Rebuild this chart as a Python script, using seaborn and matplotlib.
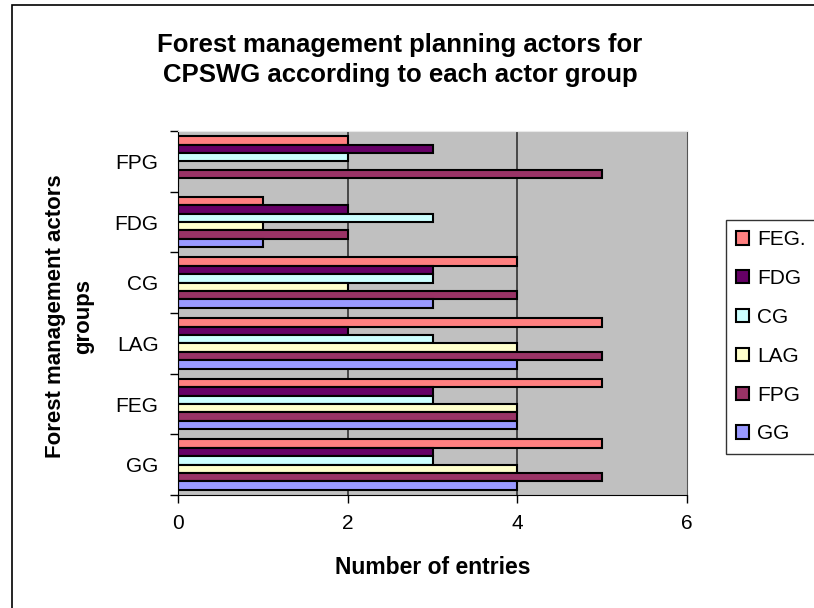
import matplotlib
matplotlib.use("Agg")
from matplotlib import pyplot as plt
from matplotlib.patches import Rectangle
import seaborn as sns
import pandas as pd

# actor groups on the y axis, top to bottom
groups = ['FPG', 'FDG', 'CG', 'LAG', 'FEG', 'GG']
# series, legend order
series = ['FEG.', 'FDG', 'CG', 'LAG', 'FPG', 'GG']

feg = [2, 1, 4, 5, 5, 5]
fdg = [3, 2, 3, 2, 3, 3]
cg = [2, 3, 3, 3, 3, 3]
lag = [0, 1, 2, 4, 4, 4]
fpg = [5, 2, 4, 5, 4, 5]
gg = [0, 1, 3, 4, 4, 4]

colors = ['#FF8080', '#660066', '#CCFFFF', '#FFFFCC', '#993366', '#9999FF']

rows = []
for name, vals in zip(series, [feg, fdg, cg, lag, fpg, gg]):
    for g, v in zip(groups, vals):
        rows.append({'group': g, 'series': name, 'value': v})
df = pd.DataFrame(rows)

sns.set_style("white")
plt.rcParams['font.family'] = ['Liberation Sans', 'DejaVu Sans']
plt.rcParams['text.color'] = 'black'
plt.rcParams['axes.labelcolor'] = 'black'
plt.rcParams['xtick.color'] = 'black'
plt.rcParams['ytick.color'] = 'black'

fig = plt.figure(figsize=(8.14, 6.08), dpi=100)
ax = fig.add_axes([178 / 814, 1 - 495 / 608, (687 - 178) / 814, (495 - 131) / 608])

sns.barplot(data=df, x='value', y='group', hue='series', order=groups,
            hue_order=series, palette=colors, orient='h', width=0.83,
            edgecolor='black', linewidth=1.5, saturation=1, ax=ax, legend=True)

ax.set_facecolor('#C0C0C0')
ax.set_xlim(0, 6)
ax.set_ylim(5.5, -0.5)
ax.set_xticks([0, 2, 4, 6])
ax.set_xticklabels(['0', '2', '4', '6'], fontsize=15)
for x in [2, 4]:
    ax.axvline(x, color='#333333', lw=1.2, zorder=0.5)

ax.set_yticks(range(len(groups)))
ax.set_yticklabels(groups, fontsize=15)
ax.tick_params(axis='y', which='major', left=False, length=0, pad=14)
ax.set_yticks([i - 0.5 for i in range(len(groups) + 1)], minor=True)
ax.tick_params(axis='y', which='minor', left=True, length=6, width=1, direction='out')
ax.tick_params(axis='x', bottom=True, length=6, width=1, direction='out', pad=8)
ax.spines['top'].set_color('#E8E8E8')
ax.spines['right'].set_color('#555555')
ax.spines['left'].set_color('black')
ax.spines['bottom'].set_color('black')

ax.set_xlabel('Number of entries', fontsize=16.5, fontweight='bold')
ax.xaxis.set_label_coords(0.5, -(568 - 495) / (495 - 131), transform=ax.transAxes)
ax.xaxis.label.set_va('center')
ax.set_ylabel('Forest management actors\ngroups', fontsize=16, fontweight='bold', linespacing=1.45)
ax.yaxis.set_label_coords(-(178 - 70) / (687 - 178), 0.49)
ax.yaxis.label.set_va('center')

fig.text(400 / 814, 1 - 60 / 608, 'Forest management planning actors for\nCPSWG according to each actor group',
         ha='center', va='center', fontsize=18.5, fontweight='bold', linespacing=1.3)

handles, labels = ax.get_legend_handles_labels()
ax.legend_.remove()
leg = fig.legend(handles, labels, loc='upper left', bbox_to_anchor=(726 / 814, 1 - 220 / 608),
                 fontsize=15, frameon=True, fancybox=False, edgecolor='black',
                 handlelength=0.6, handleheight=0.6, handletextpad=0.4,
                 labelspacing=0.95, borderpad=0.5, borderaxespad=0)
leg.get_frame().set_linewidth(1)

fig.patches.append(Rectangle((12 / 814, -0.05), 1.0, 1 - 5 / 608 + 0.05, transform=fig.transFigure,
                             fill=False, edgecolor='black', lw=1.2))

fig.savefig('out.png', dpi=100)
